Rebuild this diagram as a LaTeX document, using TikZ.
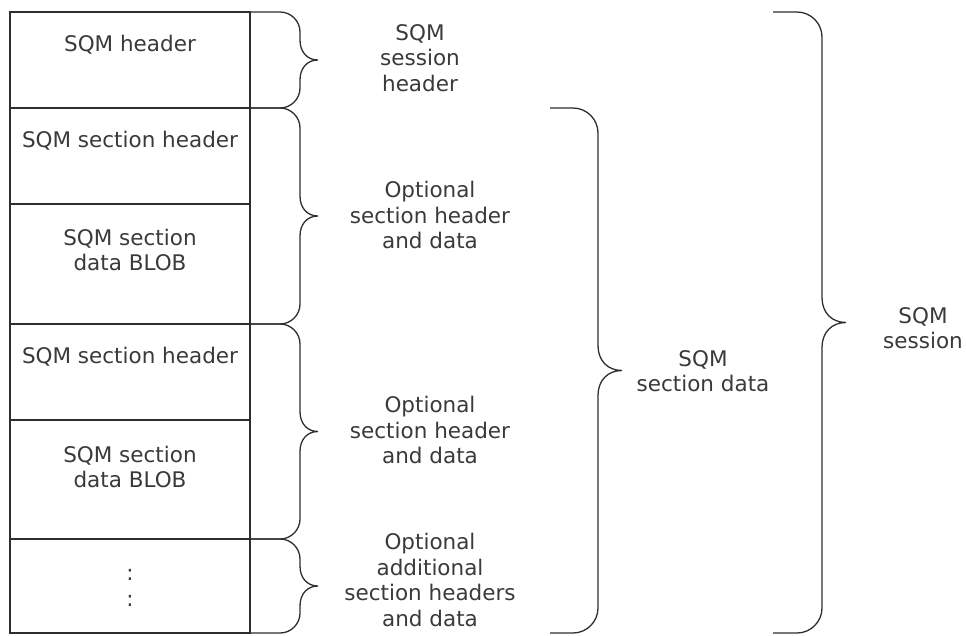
\documentclass[tikz,border=0pt]{standalone}
\usepackage{fontspec}
\setmainfont{DejaVu Sans}
\definecolor{lc}{HTML}{2E2E2E}
\definecolor{tc}{HTML}{3A3A3A}
\newcommand{\mybrace}[6]{% #1 x start, #2 x vertical, #3 ytop, #4 ybot, #5 r, #6 t
  \pgfmathsetmacro{\bM}{(#3+#4)/2}
  \pgfmathsetmacro{\bA}{#2-#5}
  \pgfmathsetmacro{\bB}{#2-0.45*#5}
  \pgfmathsetmacro{\bC}{#3+0.45*#5}
  \pgfmathsetmacro{\bD}{#3+#5}
  \pgfmathsetmacro{\bE}{\bM-#5}
  \pgfmathsetmacro{\bF}{\bM-0.4*#5}
  \pgfmathsetmacro{\bG}{#2+#6}
  \pgfmathsetmacro{\bH}{#2+0.4*#6}
  \pgfmathsetmacro{\bI}{\bM+0.4*#5}
  \pgfmathsetmacro{\bJ}{\bM+#5}
  \pgfmathsetmacro{\bK}{#4-#5}
  \pgfmathsetmacro{\bL}{#4-0.45*#5}
  \draw[ln] (#1,#3) -- (\bA,#3) .. controls (\bB,#3) and (#2,\bC) .. (#2,\bD)
    -- (#2,\bE) .. controls (#2,\bF) and (\bH,\bM) .. (\bG,\bM)
    .. controls (\bH,\bM) and (#2,\bI) .. (#2,\bJ)
    -- (#2,\bK) .. controls (#2,\bL) and (\bB,#4) .. (\bA,#4) -- (#1,#4);
}
\begin{document}
\begin{tikzpicture}[x=1pt,y=-1pt,
  ln/.style={draw=lc,line width=1.3pt},
  lbl/.style={font=\fontsize{21.5}{25.5}\selectfont,text=tc,align=center,inner sep=0pt,anchor=center}]
\useasboundingbox (0,0) rectangle (966,635);
% table
\draw[ln] (10,12) rectangle (250,633);
\foreach \yy in {108,204,324,420,539} \draw[ln] (10,\yy) -- (250,\yy);
% cell texts
\node[lbl] (h1) at (130,45) {SQM header};
\node[lbl] (h2) at (130,141) {SQM section header};
\node[lbl] (d1) at (130,250) {SQM section\\data BLOB};
\node[lbl] (h3) at (130,357) {SQM section header};
\node[lbl] (d2) at (130,467) {SQM section\\data BLOB};
\node[lbl] (dots) at (130,588) {:\\:};
% small braces
\mybrace{250}{300}{12}{108}{20}{18}
\mybrace{250}{300}{108}{324}{20}{18}
\mybrace{250}{300}{324}{539}{20}{18}
\mybrace{250}{300}{539}{633}{20}{18}
% big braces
\mybrace{550}{598}{108}{633}{25}{24}
\mybrace{773}{822}{12}{633}{25}{24}
% labels
\node[lbl] (l1) at (420,58) {SQM\\session\\header};
\node[lbl] (l2) at (430,215) {Optional\\section header\\and data};
\node[lbl] (l3) at (430,430) {Optional\\section header\\and data};
\node[lbl] (l4) at (430,580) {Optional\\additional\\section headers\\and data};
\node[lbl] (l5) at (703,371) {SQM\\section data};
\node[lbl] (l6) at (923,328) {SQM\\session};
\end{tikzpicture}
\end{document}
